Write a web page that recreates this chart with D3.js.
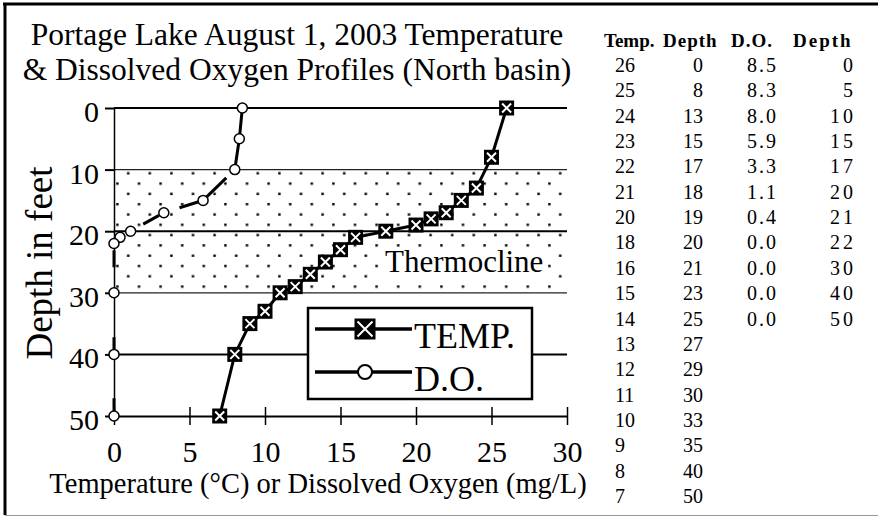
<!DOCTYPE html>
<html>
<head>
<meta charset="utf-8">
<script src="https://cdn.jsdelivr.net/npm/d3@7"></script>
<style>
  body { margin: 0; background: #fff; }
  svg { display: block; }
  svg text { font-family: "Liberation Serif", "Times New Roman", serif; }
</style>
</head>
<body>
<div class="profile-chart"></div>
<script>
// Data
const temps = [26, 25, 24, 23, 22, 21, 20, 18, 16, 15, 14, 13, 12, 11, 10, 9, 8, 7]
const tempDepths = [0, 8, 13, 15, 17, 18, 19, 20, 21, 23, 25, 27, 29, 30, 33, 35, 40, 50]
const oxygen = [8.5, 8.3, 8.0, 5.9, 3.3, 1.1, 0.4, 0.0, 0.0, 0.0, 0.0]
const oxygenDepths = [0, 5, 10, 15, 17, 20, 21, 22, 30, 40, 50]
const thermocline = [10, 30]
const xTicks = [0, 5, 10, 15, 20, 25, 30]
const yTicks = [0, 10, 20, 30, 40, 50]
const gridDepths = [0, 20, 40]
const tableHeaders = ['Temp.', 'Depth', 'D.O.', 'Depth']

/* Configuration */
const width = 878
const height = 516
const font = '"Liberation Serif", "Times New Roman", serif'
const selector = '.profile-chart'

const x = d3.scaleLinear([0, 30], [114, 567])
const y = d3.scaleLinear([0, 50], [108, 416])

const svg = d3
    .select(selector)
    .append('svg')
    .attr('width', width)
    .attr('height', height)
    .attr('font-family', font)

// frame
svg.append('line').attr('x1', 3).attr('x2', width).attr('y1', 4).attr('y2', 4)
    .attr('stroke', '#000').attr('stroke-width', 3)
svg.append('line').attr('x1', 5).attr('x2', 5).attr('y1', 3).attr('y2', 515)
    .attr('stroke', '#000').attr('stroke-width', 3)
svg.append('line').attr('x1', 5).attr('x2', width).attr('y1', 515.5).attr('y2', 515.5)
    .attr('stroke', '#999').attr('stroke-width', 1)

// Title
svg.append('text')
    .attr('text-anchor', 'middle')
    .attr('font-size', 31.5)
    .selectAll('tspan')
    .data(['Portage Lake August 1, 2003 Temperature', '& Dissolved Oxygen Profiles (North basin)'])
    .join('tspan')
    .attr('x', 297)
    .attr('y', (d, i) => 45 + i * 35)
    .text(d => d)

// dotted pattern for the thermocline band
const pattern = svg.append('defs')
    .append('pattern')
    .attr('id', 'dots')
    .attr('patternUnits', 'userSpaceOnUse')
    .attr('x', x(0))
    .attr('y', y(thermocline[0]))
    .attr('width', 21.6)
    .attr('height', 20.6)
pattern.append('rect').attr('x', 13).attr('y', 2.5).attr('width', 2.4).attr('height', 2.4).attr('fill', '#000')
pattern.append('rect').attr('x', 2.2).attr('y', 12.8).attr('width', 2.4).attr('height', 2.4).attr('fill', '#000')

svg.append('rect')
    .attr('x', x(0))
    .attr('y', y(thermocline[0]))
    .attr('width', x(30) - x(0))
    .attr('height', y(thermocline[1]) - y(thermocline[0]))
    .attr('fill', 'url(#dots)')

svg.append('g')
    .selectAll('line')
    .data(thermocline)
    .join('line')
    .attr('x1', x(0))
    .attr('x2', x(30))
    .attr('y1', d => y(d))
    .attr('y2', d => y(d))
    .attr('stroke', '#222')
    .attr('stroke-width', 1.2)

// Thermocline label on a white patch
svg.append('rect')
    .attr('x', 380).attr('y', 249).attr('width', 168).attr('height', 30)
    .attr('fill', '#fff')
svg.append('text')
    .attr('x', 385)
    .attr('y', 272)
    .attr('font-size', 31)
    .text('Thermocline')

// major gridlines
svg.append('g')
    .selectAll('line')
    .data(gridDepths)
    .join('line')
    .attr('x1', x(0))
    .attr('x2', x(30))
    .attr('y1', d => y(d))
    .attr('y2', d => y(d))
    .attr('stroke', '#000')
    .attr('stroke-width', 2)

// y axis
const yAxis = svg.append('g')
    .attr('transform', `translate(${x(0)},0)`)
    .call(d3.axisLeft(y).tickValues(yTicks).tickSize(9).tickSizeOuter(0))
yAxis.attr('font-family', font).attr('font-size', 30)
yAxis.select('.domain').attr('stroke', '#000').attr('stroke-width', 1.5)
yAxis.selectAll('.tick line').attr('stroke', '#000').attr('stroke-width', 2)
yAxis.selectAll('.tick text').attr('x', -15).attr('dy', '0.45em').attr('fill', '#000')

// x axis with crossing ticks
const xAxis = svg.append('g')
    .attr('transform', `translate(0,${y(50)})`)
    .call(d3.axisBottom(x).tickValues(xTicks).tickSize(9).tickSizeOuter(0))
xAxis.attr('font-family', font).attr('font-size', 30)
xAxis.select('.domain').attr('stroke', '#000').attr('stroke-width', 2)
xAxis.selectAll('.tick line').attr('y1', -9).attr('stroke', '#000').attr('stroke-width', 1.5)
xAxis.selectAll('.tick text').attr('y', 46).attr('dy', null).attr('fill', '#000')

// axis titles
svg.append('text')
    .attr('x', 318)
    .attr('y', 493)
    .attr('text-anchor', 'middle')
    .attr('font-size', 28.5)
    .text('Temperature (\u00B0C) or Dissolved Oxygen (mg/L)')

svg.append('text')
    .attr('transform', 'translate(52,263) rotate(-90)')
    .attr('text-anchor', 'middle')
    .attr('font-size', 37)
    .text('Depth in feet')

// D.O. profile
const doData = d3.zip(oxygen, oxygenDepths)
const tempData = d3.zip(temps, tempDepths)
const line = d3.line().x(d => x(d[0])).y(d => y(d[1]))

svg.append('path')
    .datum(doData)
    .attr('d', line)
    .attr('fill', 'none')
    .attr('stroke', '#000')
    .attr('stroke-width', 3)
    .attr('stroke-dasharray', '62 12 33 3 21 22 18 42 17 70 18 43 15 10')

svg.append('g')
    .selectAll('circle')
    .data(doData)
    .join('circle')
    .attr('cx', d => x(d[0]))
    .attr('cy', d => y(d[1]))
    .attr('r', 5)
    .attr('fill', '#fff')
    .attr('stroke', '#000')
    .attr('stroke-width', 1.5)

// Temperature profile
svg.append('path')
    .datum(tempData)
    .attr('d', line)
    .attr('fill', 'none')
    .attr('stroke', '#000')
    .attr('stroke-width', 3)

function crossMark(sel, s) {
    sel.append('rect')
        .attr('x', -s / 2).attr('y', -s / 2).attr('width', s).attr('height', s)
        .attr('fill', '#000')
    const k = s / 2 - 3
    sel.append('path')
        .attr('d', `M${-k},${-k}L${k},${k}M${-k},${k}L${k},${-k}`)
        .attr('stroke', '#fff')
        .attr('stroke-width', 2)
}

svg.append('g')
    .selectAll('g')
    .data(tempData)
    .join('g')
    .attr('transform', d => `translate(${x(d[0])},${y(d[1])})`)
    .call(crossMark, 15)

// Legend
const legend = svg.append('g')
legend.append('rect')
    .attr('x', 308).attr('y', 308).attr('width', 224).attr('height', 91)
    .attr('fill', '#fff').attr('stroke', '#000').attr('stroke-width', 2.5)
legend.selectAll('line')
    .data([329, 372])
    .join('line')
    .attr('x1', 315).attr('x2', 412)
    .attr('y1', d => d).attr('y2', d => d)
    .attr('stroke', '#000').attr('stroke-width', 3.5)
legend.append('g').attr('transform', 'translate(365,329)').call(crossMark, 21)
legend.append('circle')
    .attr('cx', 365).attr('cy', 372).attr('r', 7)
    .attr('fill', '#fff').attr('stroke', '#000').attr('stroke-width', 2)
legend.selectAll('text')
    .data(['TEMP.', 'D.O.'])
    .join('text')
    .attr('x', 414)
    .attr('y', (d, i) => 348 + i * 43)
    .attr('font-size', 36)
    .text(d => d)

// data table on the right
const table = svg.append('g').attr('font-size', 20).attr('fill', '#000')
const rowY = i => 72 + i * 25.35

table.append('g')
    .attr('font-size', 19)
    .attr('font-weight', 'bold')
    .selectAll('text')
    .data(tableHeaders)
    .join('text')
    .attr('x', (d, i) => [604, 663, 731, 793][i])
    .attr('y', 47)
    .attr('letter-spacing', (d, i) => [0, 1, 1, 2][i])
    .text(d => d)

table.append('g')
    .selectAll('text')
    .data(temps)
    .join('text')
    .attr('x', 615)
    .attr('y', (d, i) => rowY(i))
    .text(d => d)

table.append('g')
    .attr('text-anchor', 'end')
    .selectAll('text')
    .data(tempDepths)
    .join('text')
    .attr('x', 703)
    .attr('y', (d, i) => rowY(i))
    .text(d => d)

table.append('g')
    .attr('letter-spacing', 2)
    .selectAll('text')
    .data(oxygen)
    .join('text')
    .attr('x', 747)
    .attr('y', (d, i) => rowY(i))
    .text(d => d.toFixed(1))

table.append('g')
    .attr('text-anchor', 'end')
    .attr('letter-spacing', 3)
    .selectAll('text')
    .data(oxygenDepths)
    .join('text')
    .attr('x', 856)
    .attr('y', (d, i) => rowY(i))
    .text(d => d)
</script>
</body>
</html>
